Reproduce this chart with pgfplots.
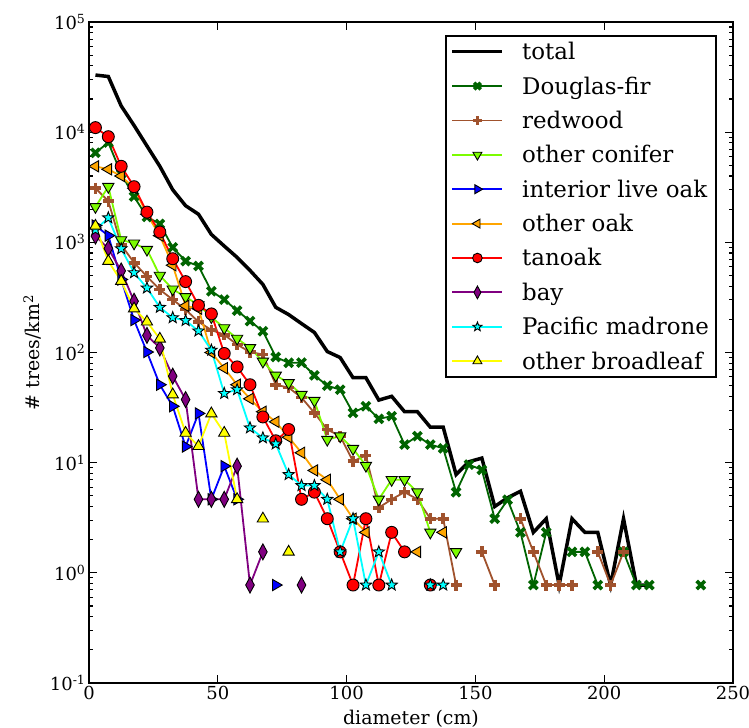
\documentclass[border=0pt]{standalone}
\usepackage{fontspec}
\setmainfont{DejaVu Serif}
\usepackage{pgfplots}
\pgfplotsset{compat=1.18}
\definecolor{dfgreen}{HTML}{006400}
\definecolor{sienna}{HTML}{A0522D}
\definecolor{lawngreen}{HTML}{7CFC00}
\definecolor{mplorange}{HTML}{FFA500}
\definecolor{mplpurple}{HTML}{800080}
\definecolor{mplcyan}{HTML}{00FFFF}
\definecolor{mplyellow}{HTML}{FFFF00}
\pgfdeclareplotmark{fstar}{%
  \pgfpathmoveto{\pgfpointpolar{90}{1.0*\pgfplotmarksize}}%
  \pgfpathlineto{\pgfpointpolar{126}{0.42*\pgfplotmarksize}}%
  \pgfpathlineto{\pgfpointpolar{162}{1.0*\pgfplotmarksize}}%
  \pgfpathlineto{\pgfpointpolar{198}{0.42*\pgfplotmarksize}}%
  \pgfpathlineto{\pgfpointpolar{234}{1.0*\pgfplotmarksize}}%
  \pgfpathlineto{\pgfpointpolar{270}{0.42*\pgfplotmarksize}}%
  \pgfpathlineto{\pgfpointpolar{306}{1.0*\pgfplotmarksize}}%
  \pgfpathlineto{\pgfpointpolar{342}{0.42*\pgfplotmarksize}}%
  \pgfpathlineto{\pgfpointpolar{18}{1.0*\pgfplotmarksize}}%
  \pgfpathlineto{\pgfpointpolar{54}{0.42*\pgfplotmarksize}}%
  \pgfpathclose
  \pgfusepathqfillstroke
}
\begin{document}
\begin{tikzpicture}
\useasboundingbox (-89bp,-45bp) rectangle (660bp,683bp);
\begin{semilogyaxis}[
  at={(0,0)}, anchor=south west, scale only axis,
  width=644bp, height=661bp,
  xmin=0, xmax=250, ymin=0.1, ymax=100000,
  xtick={0,50,100,150,200,250},
  ytick={0.1,1,10,100,1000,10000,100000},
  yticklabels={10\textsuperscript{-1},10\textsuperscript{0},10\textsuperscript{1},10\textsuperscript{2},10\textsuperscript{3},10\textsuperscript{4},10\textsuperscript{5}},
  minor ytick={0.2,0.3,0.4,0.5,0.6,0.7,0.8,0.9,2,3,4,5,6,7,8,9,20,30,40,50,60,70,80,90,200,300,400,500,600,700,800,900,2000,3000,4000,5000,6000,7000,8000,9000,20000,30000,40000,50000,60000,70000,80000,90000},
  /pgf/number format/assume math mode=true,
  tick label style={font=\fontsize{18}{20}\selectfont},
  tick align=inside,
  major tick length=8bp, minor tick length=4bp,
  every tick/.style={black, line width=1.1bp},
  axis line style={line width=2bp},
  xlabel={diameter (cm)},
  ylabel={\# trees/km\textsuperscript{2}},
  label style={font=\fontsize{19}{22}\selectfont},
  xlabel style={at={(axis description cs:0.5,-0.054)}, anchor=center},
  ylabel style={at={(axis description cs:-0.088,0.5)}, anchor=center, rotate=0},
  unbounded coords=jump,
  legend style={at={(0.975,0.980)}, anchor=north east, draw=black, line width=2bp, fill=white,
    font=\fontsize{23}{26}\selectfont, row sep=11.5bp, inner xsep=5bp, inner ysep=4bp},
  legend cell align=left,
  legend image code/.code={\draw[mark repeat=2, mark phase=2, every mark/.append style={scale=0.8}] plot coordinates {(0bp,0bp) (25bp,0bp) (50bp,0bp)}; \path (66bp,0bp);},
]
% total
\addplot[black, line width=3.5bp, no marks] coordinates {
(2.5,33000)(7.5,32000)(12.5,17300)(17.5,11500)(22.5,7500)(27.5,4900)(32.5,3000)(37.5,2150)(42.5,1800)(47.5,1180)(52.5,925)(57.5,730)(62.5,556)(67.5,415)(72.5,257)(77.5,221)(82.5,183)(87.5,152)(92.5,102)(97.5,90)(102.5,59)(107.5,59)(112.5,37)(117.5,40)(122.5,29)(127.5,29)(132.5,21)(137.5,21)(142.5,7.8)(147.5,10.2)(152.5,11)(157.5,4.0)(162.5,4.8)(167.5,5.5)(172.5,2.33)(177.5,3.1)(182.5,0.775)(187.5,3.1)(192.5,2.33)(197.5,2.33)(202.5,0.775)(207.5,3.1)(212.5,0.775)(217.5,0.775)};
\addlegendentry{total}
% Douglas-fir
\addplot[dfgreen, line width=1.8bp, mark=x, mark size=5.8bp, mark options={solid, line width=3.6bp}] coordinates {
(2.5,6500)(7.5,8050)(12.5,4200)(17.5,2600)(22.5,1700)(27.5,1470)(32.5,900)(37.5,675)(42.5,610)(47.5,360)(52.5,302)(57.5,240)(62.5,193)(67.5,156)(72.5,91)(77.5,80.6)(82.5,81)(87.5,62)(92.5,50)(97.5,46)(102.5,28.3)(107.5,32.5)(112.5,25)(117.5,26.4)(122.5,14.6)(127.5,17.4)(132.5,14.6)(137.5,13.5)(142.5,5.4)(147.5,9.6)(152.5,8.6)(157.5,3.1)(162.5,4.6)(167.5,2.33)(172.5,0.775)(177.5,2.33)(182.5,nan)(187.5,1.55)(192.5,1.55)(197.5,0.775)(202.5,nan)(207.5,1.55)(212.5,0.775)(217.5,0.775)(222.5,nan)(237.5,0.775)};
\addlegendentry{Douglas-fir}
% redwood
\addplot[sienna, line width=1.8bp, mark=+, mark size=5.5bp, mark options={solid, line width=3.6bp}] coordinates {
(2.5,3100)(7.5,2370)(12.5,950)(17.5,653)(22.5,490)(27.5,372)(32.5,302)(37.5,245)(42.5,190)(47.5,160)(52.5,145)(57.5,118)(62.5,101)(67.5,96)(72.5,51)(77.5,48)(82.5,39)(87.5,28.3)(92.5,20)(97.5,17.4)(102.5,10.3)(107.5,11.6)(112.5,3.9)(117.5,4.65)(122.5,5.4)(127.5,4.65)(132.5,3.1)(137.5,3.1)(142.5,0.775)(147.5,nan)(152.5,1.55)(157.5,0.775)(162.5,nan)(167.5,3.1)(172.5,1.55)(177.5,0.775)(182.5,0.775)(187.5,0.775)(192.5,nan)(197.5,1.55)(202.5,0.775)(207.5,1.55)};
\addlegendentry{redwood}
% other conifer
\addplot[lawngreen, line width=1.8bp, mark=triangle*, mark size=6.5bp, mark options={solid, rotate=180, fill=lawngreen, draw=black, line width=0.9bp}] coordinates {
(2.5,2100)(7.5,3200)(12.5,1050)(17.5,980)(22.5,860)(27.5,500)(32.5,375)(37.5,320)(42.5,270)(47.5,210)(52.5,167)(57.5,134)(62.5,110)(67.5,83)(72.5,62)(77.5,53)(82.5,41.5)(87.5,36.6)(92.5,16.2)(97.5,17.4)(102.5,13.4)(107.5,9.4)(112.5,4.65)(117.5,7.0)(122.5,7.0)(127.5,5.4)(132.5,2.33)(137.5,nan)(142.5,1.55)};
\addlegendentry{other conifer}
% interior live oak
\addplot[blue, line width=1.8bp, mark=triangle*, mark size=6.5bp, mark options={solid, rotate=-90, fill=blue, draw=black, line width=0.9bp}] coordinates {
(2.5,1420)(7.5,1150)(12.5,460)(17.5,197)(22.5,101)(27.5,51)(32.5,32.5)(37.5,14)(42.5,28)(47.5,4.65)(52.5,9.3)(57.5,4.65)(62.5,nan)(72.5,0.775)};
\addlegendentry{interior live oak}
% other oak
\addplot[mplorange, line width=1.8bp, mark=triangle*, mark size=6.5bp, mark options={solid, rotate=90, fill=mplorange, draw=black, line width=0.9bp}] coordinates {
(2.5,4900)(7.5,4600)(12.5,4000)(17.5,3100)(22.5,1800)(27.5,1150)(32.5,620)(37.5,265)(42.5,250)(47.5,100)(52.5,72)(57.5,51)(62.5,38)(67.5,29)(72.5,23.5)(77.5,17)(82.5,12.3)(87.5,8.5)(92.5,7.0)(97.5,4.65)(102.5,3.1)(107.5,2.33)(112.5,nan)(127.5,1.55)(132.5,nan)(137.5,2.33)};
\addlegendentry{other oak}
% tanoak
\addplot[red, line width=1.8bp, mark=*, mark size=6bp, mark options={solid, fill=red, draw=black, line width=0.9bp}] coordinates {
(2.5,11000)(7.5,9100)(12.5,4900)(17.5,3200)(22.5,1880)(27.5,1240)(32.5,710)(37.5,440)(42.5,268)(47.5,224)(52.5,98)(57.5,74)(62.5,51)(67.5,26)(72.5,15.8)(77.5,20)(82.5,4.65)(87.5,5.4)(92.5,3.1)(97.5,1.55)(102.5,0.775)(107.5,3.1)(112.5,0.775)(117.5,2.33)(122.5,1.55)(127.5,nan)(132.5,0.775)};
\addlegendentry{tanoak}
% bay
\addplot[mplpurple, line width=1.8bp, mark=diamond*, mark size=8bp, mark options={solid, xscale=0.72, fill=mplpurple, draw=black, line width=0.9bp}] coordinates {
(2.5,1140)(7.5,880)(12.5,550)(17.5,292)(22.5,143)(27.5,110)(32.5,61)(37.5,37.4)(42.5,4.65)(47.5,4.65)(52.5,4.65)(57.5,9.3)(62.5,0.775)(67.5,1.55)(72.5,nan)(82.5,0.775)};
\addlegendentry{bay}
% Pacific madrone
\addplot[mplcyan, line width=1.8bp, mark=fstar, mark size=6bp, mark options={solid, fill=mplcyan, draw=black, line width=0.9bp}] coordinates {
(2.5,1300)(7.5,1670)(12.5,875)(17.5,530)(22.5,385)(27.5,257)(32.5,207)(37.5,195)(42.5,157)(47.5,105)(52.5,42.5)(57.5,46)(62.5,20.7)(67.5,16.8)(72.5,14.8)(77.5,7.8)(82.5,6.2)(87.5,6.2)(92.5,4.65)(97.5,1.55)(102.5,3.1)(107.5,0.775)(112.5,1.55)(117.5,0.775)(122.5,nan)(132.5,0.775)(137.5,0.775)};
\addlegendentry{Pacific madrone}
% other broadleaf
\addplot[mplyellow, line width=1.8bp, mark=triangle*, mark size=6.5bp, mark options={solid, fill=mplyellow, draw=black, line width=0.9bp}] coordinates {
(2.5,1410)(7.5,675)(12.5,445)(17.5,250)(22.5,190)(27.5,133)(32.5,41.5)(37.5,18.6)(42.5,14.1)(47.5,27.9)(52.5,18.6)(57.5,4.65)(62.5,nan)(67.5,3.1)(72.5,nan)(77.5,1.55)};
\addlegendentry{other broadleaf}
\end{semilogyaxis}
\end{tikzpicture}
\end{document}
